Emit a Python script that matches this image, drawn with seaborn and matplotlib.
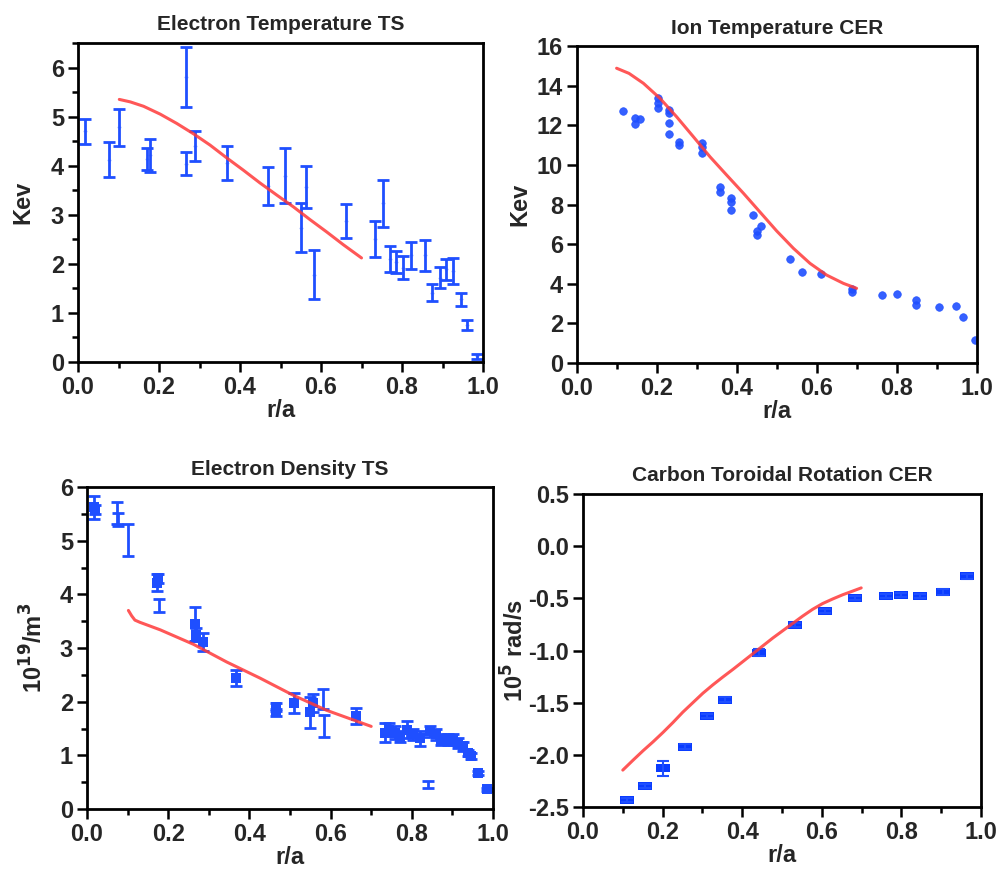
import numpy as np
import pandas as pd
import matplotlib
matplotlib.use("Agg")
import matplotlib.pyplot as plt
from matplotlib.ticker import MultipleLocator, FormatStrFormatter
import seaborn as sns

sns.set_theme(style="white")
plt.rcParams['font.family'] = ['Liberation Sans', 'DejaVu Sans']
plt.rcParams['font.weight'] = 'bold'

BLUE = '#1f4fff'
RED = '#ff3a3a'

# ---------------- Electron Temperature TS ----------------
te_x = [0.018, 0.076, 0.102, 0.170, 0.178, 0.267, 0.267, 0.288, 0.369, 0.468, 0.512, 0.550,
        0.562, 0.583, 0.661, 0.733, 0.752, 0.770, 0.786, 0.803, 0.821, 0.856, 0.875, 0.893,
        0.908, 0.926, 0.945, 0.961, 0.984]
te_y = [4.70, 4.12, 4.78, 4.13, 4.21, 5.81, 4.04, 4.40, 4.06, 3.58, 3.79, 2.74,
        3.57, 1.78, 2.87, 2.51, 3.23, 2.10, 2.04, 1.92, 2.17, 2.17, 1.41, 1.72,
        1.89, 1.85, 1.28, 0.75, 0.12]
te_err = [0.26, 0.36, 0.38, 0.22, 0.34, 0.61, 0.24, 0.30, 0.35, 0.39, 0.56, 0.49,
          0.43, 0.50, 0.35, 0.37, 0.48, 0.26, 0.22, 0.23, 0.28, 0.32, 0.17, 0.21,
          0.21, 0.26, 0.13, 0.10, 0.05]
te_fit_x = [0.102, 0.129, 0.162, 0.203, 0.244, 0.285, 0.326, 0.367, 0.408, 0.449,
            0.491, 0.532, 0.573, 0.614, 0.655, 0.700]
te_fit_y = [5.35, 5.30, 5.21, 5.05, 4.86, 4.65, 4.42, 4.16, 3.91, 3.65,
            3.40, 3.16, 2.90, 2.65, 2.39, 2.12]

# ---------------- Ion Temperature CER ----------------
ti_x = [0.114, 0.146, 0.146, 0.158, 0.202, 0.202, 0.202, 0.229, 0.229, 0.229, 0.229,
        0.256, 0.256, 0.3125, 0.3125, 0.3125, 0.358, 0.358, 0.386, 0.386, 0.386,
        0.440, 0.450, 0.450, 0.461, 0.532, 0.5625, 0.610, 0.6875, 0.6875, 0.7625,
        0.800, 0.848, 0.848, 0.904, 0.9475, 0.964, 0.996]
ti_y = [12.71, 12.37, 12.04, 12.32, 13.38, 13.13, 12.88, 12.79, 12.63, 12.12, 11.57,
        11.14, 10.98, 11.11, 10.91, 10.61, 8.89, 8.64, 8.33, 8.11, 7.71,
        7.49, 6.48, 6.65, 6.90, 5.25, 4.58, 4.51, 3.74, 3.59, 3.45,
        3.48, 3.16, 2.93, 2.83, 2.90, 2.31, 1.18]
ti_fit_x = [0.099, 0.130, 0.166, 0.2075, 0.249, 0.291, 0.3325, 0.374, 0.416, 0.4575,
            0.499, 0.541, 0.5825, 0.624, 0.666, 0.699]
ti_fit_y = [14.88, 14.62, 14.12, 13.36, 12.43, 11.42, 10.41, 9.49, 8.57, 7.62,
            6.67, 5.79, 5.03, 4.44, 4.02, 3.77]

# ---------------- Electron Density TS ----------------
ne_x = [0.017, 0.020, 0.073, 0.077, 0.101, 0.172, 0.174, 0.177, 0.265, 0.268, 0.286,
        0.368, 0.466, 0.466, 0.511, 0.550, 0.557, 0.581, 0.583, 0.662,
        0.733, 0.745, 0.758, 0.770, 0.787, 0.803, 0.819, 0.840, 0.844, 0.860,
        0.873, 0.889, 0.901, 0.914, 0.926, 0.938, 0.947, 0.963, 0.984]
ne_y = [5.62, 5.58, 5.52, 5.40, 5.02, 4.22, 4.30, 3.79, 3.45, 3.25, 3.11,
        2.44, 1.80, 1.90, 1.98, 1.80, 1.97, 2.05, 1.55, 1.73,
        1.42, 1.48, 1.42, 1.35, 1.48, 1.39, 1.32, 0.46, 1.45, 1.39,
        1.29, 1.29, 1.30, 1.23, 1.17, 1.04, 0.99, 0.67, 0.37]
ne_err = [0.22, 0.08, 0.20, 0.12, 0.30, 0.16, 0.08, 0.12, 0.32, 0.12, 0.17,
          0.15, 0.06, 0.08, 0.19, 0.29, 0.17, 0.18, 0.20, 0.15,
          0.18, 0.12, 0.12, 0.10, 0.16, 0.10, 0.14, 0.06, 0.10, 0.10,
          0.10, 0.10, 0.10, 0.10, 0.08, 0.06, 0.05, 0.03, 0.03]
ne_square = [1, 1, 0, 0, 0, 1, 1, 0, 1, 1, 1,
             1, 1, 1, 1, 1, 1, 0, 0, 1,
             1, 1, 1, 1, 1, 1, 1, 0, 1, 1,
             1, 1, 1, 1, 1, 1, 1, 1, 1]
ne_fit_x = [0.102, 0.110, 0.118, 0.130, 0.180, 0.262, 0.344, 0.426, 0.508, 0.590, 0.645, 0.700]
ne_fit_y = [3.70, 3.60, 3.52, 3.48, 3.34, 3.07, 2.74, 2.44, 2.12, 1.84, 1.69, 1.54]

# ---------------- Carbon Toroidal Rotation CER ----------------
om_x = [0.111, 0.157, 0.200, 0.256, 0.311, 0.356, 0.443, 0.532, 0.609, 0.683,
        0.761, 0.798, 0.847, 0.904, 0.964]
om_y = [-2.43, -2.30, -2.13, -1.92, -1.63, -1.47, -1.02, -0.757, -0.62, -0.50,
        -0.48, -0.47, -0.48, -0.44, -0.29]
om_err = [0.02, 0.02, 0.07, 0.02, 0.02, 0.02, 0.03, 0.02, 0.02, 0.02,
          0.02, 0.02, 0.02, 0.03, 0.02]
om_fit_x = [0.100, 0.126, 0.151, 0.176, 0.201, 0.226, 0.251, 0.276, 0.301, 0.326,
            0.351, 0.377, 0.402, 0.427, 0.452, 0.477, 0.502, 0.527, 0.552, 0.577,
            0.602, 0.628, 0.653, 0.678, 0.699]
om_fit_y = [-2.146, -2.050, -1.960, -1.875, -1.785, -1.690, -1.590, -1.500, -1.410, -1.330,
            -1.255, -1.180, -1.105, -1.030, -0.955, -0.880, -0.810, -0.740, -0.670, -0.605,
            -0.550, -0.505, -0.465, -0.430, -0.400]

fig = plt.figure(figsize=(10, 8.72), dpi=100)

axes_pos = [
    [0.078, 0.5849, 0.405, 0.3658],
    [0.577, 0.5837, 0.400, 0.3635],
    [0.087, 0.0722, 0.406, 0.3693],
    [0.583, 0.0745, 0.398, 0.3590],
]
axs = [fig.add_axes(p) for p in axes_pos]

TICK_FS = 17
LAB_FS = 17
TITLE_FS = 15


def style(ax, title, ylabel, ylim, ymaj, ymin=None, ylabelpad=4):
    ax.set_xlim(0, 1.0)
    ax.set_ylim(*ylim)
    ax.xaxis.set_major_locator(MultipleLocator(0.2))
    ax.xaxis.set_minor_locator(MultipleLocator(0.1))
    ax.yaxis.set_major_locator(MultipleLocator(ymaj))
    if ymin:
        ax.yaxis.set_minor_locator(MultipleLocator(ymin))
    ax.tick_params(which='both', direction='out', color='black', width=1.8,
                   bottom=True, left=True, top=False, right=False)
    ax.tick_params(which='major', length=7, labelsize=TICK_FS, pad=3)
    ax.tick_params(which='minor', length=4)
    for lab in ax.get_xticklabels() + ax.get_yticklabels():
        lab.set_fontweight('bold')
    for s in ax.spines.values():
        s.set_color('black')
        s.set_linewidth(2)
        s.set_visible(True)
    ax.set_title(title, fontsize=TITLE_FS, fontweight='bold', pad=9)
    ax.set_xlabel('r/a', fontsize=LAB_FS, fontweight='bold', labelpad=0)
    ax.set_ylabel(ylabel, fontsize=LAB_FS, fontweight='bold', labelpad=ylabelpad)
    ax.grid(False)
    ax.set_facecolor('white')


# Panel 1
ax = axs[0]
ax.errorbar(te_x, te_y, yerr=te_err, fmt='none', ecolor=BLUE, elinewidth=2,
            capsize=4, capthick=2)
sns.scatterplot(x=te_x, y=te_y, ax=ax, color=BLUE, marker='+', s=12, alpha=0.4,
                linewidth=1, legend=False)
sns.lineplot(x=te_fit_x, y=te_fit_y, ax=ax, color=RED, linewidth=2.2, alpha=0.85,
             sort=False, legend=False)
style(ax, 'Electron Temperature TS', 'Kev', (0, 6.5), 1, 0.5, ylabelpad=12)

# Panel 2
ax = axs[1]
sns.scatterplot(x=ti_x, y=ti_y, ax=ax, color=BLUE, marker='o', s=30, edgecolor=BLUE,
                linewidth=0.5, alpha=0.9, legend=False)
sns.lineplot(x=ti_fit_x, y=ti_fit_y, ax=ax, color=RED, linewidth=2.2, alpha=0.85,
             sort=False, legend=False)
style(ax, 'Ion Temperature CER', 'Kev', (0, 16), 2)

# Panel 3
ax = axs[2]
ax.errorbar(ne_x, ne_y, yerr=ne_err, fmt='none', ecolor=BLUE, elinewidth=2,
            capsize=4, capthick=2)
ne_df = pd.DataFrame({'x': ne_x, 'y': ne_y, 'sq': ne_square})
sq = ne_df[ne_df.sq == 1]
sns.scatterplot(data=sq, x='x', y='y', ax=ax, color=BLUE, marker='s', s=45,
                edgecolor=BLUE, linewidth=0, legend=False)
sns.lineplot(x=ne_fit_x, y=ne_fit_y, ax=ax, color=RED, linewidth=2.2, alpha=0.85,
             sort=False, legend=False)
style(ax, 'Electron Density TS', r'10$^{19}$/m$^3$', (0, 6), 1, 0.5, ylabelpad=9)

# Panel 4
ax = axs[3]
rect = [(-1, -0.6), (1, -0.6), (1, 0.6), (-1, 0.6), (-1, -0.6)]
ax.errorbar(om_x, om_y, yerr=om_err, fmt='none', ecolor=BLUE, elinewidth=1.5,
            capsize=4, capthick=1.5)
sns.scatterplot(x=om_x, y=om_y, ax=ax, color='#0a3cff', marker=rect, s=100,
                edgecolor='#0a3cff', linewidth=0, legend=False)
sns.lineplot(x=om_fit_x, y=om_fit_y, ax=ax, color=RED, linewidth=2.2, alpha=0.85,
             sort=False, legend=False)
style(ax, 'Carbon Toroidal Rotation CER', r'10$^5$ rad/s', (-2.5, 0.5), 0.5, ylabelpad=0)
ax.yaxis.set_major_formatter(FormatStrFormatter('%.1f'))

fig.savefig('out.png', dpi=100, facecolor='white')
